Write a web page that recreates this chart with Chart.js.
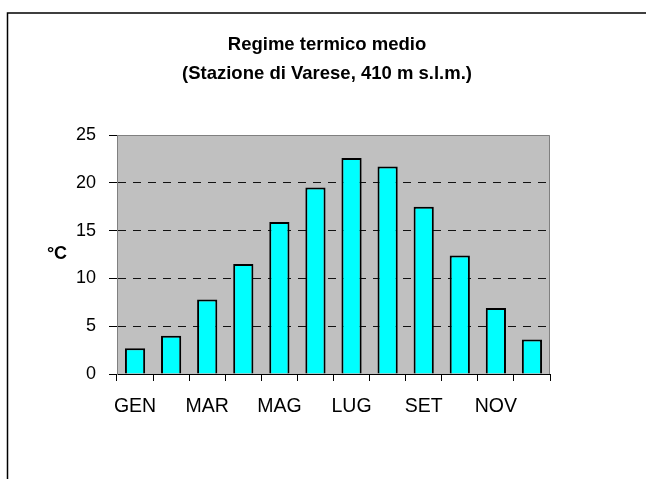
<!DOCTYPE html>
<html>
<head>
<meta charset="utf-8">
<script src="https://cdn.jsdelivr.net/npm/chart.js@4.4.1/dist/chart.umd.min.js"></script>
<style>
  html, body { margin: 0; padding: 0; background: #fff; }
  canvas { display: block; }
</style>
</head>
<body>
<canvas id="chart" width="646" height="479"></canvas>
<script>
// mesi e temperature medie (Varese)
const months = ['GEN', 'FEB', 'MAR', 'APR', 'MAG', 'GIU', 'LUG', 'AGO', 'SET', 'OTT', 'NOV', 'DIC'];
const tempMedia = [2.7, 4.0, 7.8, 11.5, 15.9, 19.5, 22.6, 21.7, 17.5, 12.4, 6.9, 3.6];
const yTicks = [0, 5, 10, 15, 20, 25];
const titleLines = ['Regime termico medio', '(Stazione di Varese, 410 m s.l.m.)'];
const yLabel = '°C';

const FONT = "'Liberation Sans', Arial, sans-serif";

// sfondo grigio, bordo del grafico, cornice, titolo e etichetta asse y
const plotDecor = {
    id: 'plotDecor',
    beforeDraw(chart) {
        const { ctx, chartArea: a } = chart;
        ctx.save();
        ctx.fillStyle = '#c0c0c0';
        ctx.fillRect(a.left, a.top, a.right - a.left, a.bottom - a.top);
        // cornice esterna
        ctx.strokeStyle = '#000';
        ctx.lineWidth = 1.5;
        ctx.beginPath();
        ctx.moveTo(7.5, chart.height);
        ctx.lineTo(7.5, 13);
        ctx.lineTo(chart.width, 13);
        ctx.stroke();
        ctx.restore();
    },
    beforeDatasetsDraw(chart) {
        const { ctx, chartArea: a } = chart;
        ctx.save();
        ctx.strokeStyle = '#808080';
        ctx.lineWidth = 1;
        ctx.beginPath();
        ctx.moveTo(a.left, a.top + 0.5);
        ctx.lineTo(a.right - 0.5, a.top + 0.5);
        ctx.lineTo(a.right - 0.5, a.bottom);
        ctx.stroke();
        ctx.restore();
    },
    afterDraw(chart) {
        const { ctx, chartArea: a } = chart;
        ctx.save();
        ctx.fillStyle = '#000';
        ctx.textAlign = 'center';
        ctx.textBaseline = 'middle';
        ctx.font = 'bold 18.5px ' + FONT;
        ctx.fillText(titleLines[0], 327, 45);
        ctx.fillText(titleLines[1], 327, 74);
        ctx.font = 'bold 18px ' + FONT;
        ctx.fillText(yLabel, 57, (a.top + a.bottom) / 2);
        ctx.restore();
    }
};

new Chart(document.getElementById('chart').getContext('2d'), {
    type: 'bar',
    data: {
        labels: months,
        datasets: [{
            data: tempMedia,
            backgroundColor: '#00ffff',
            borderColor: '#000',
            borderWidth: 2,
            barPercentage: 0.56,
            categoryPercentage: 1
        }]
    },
    options: {
        responsive: false,
        animation: false,
        layout: { padding: { left: 0, right: 96, top: 135, bottom: 0 } },
        plugins: {
            legend: { display: false },
            tooltip: { enabled: false },
            title: { display: false }
        },
        scales: {
            x: {
                grid: {
                    offset: true,
                    drawOnChartArea: false,
                    drawTicks: true,
                    tickLength: 7,
                    tickColor: '#000'
                },
                border: { display: true, color: '#000', width: 1 },
                ticks: {
                    autoSkip: false,
                    maxRotation: 0,
                    color: '#000',
                    padding: 14,
                    font: { family: FONT, size: 19.5 },
                    callback: (v, i) => (i % 2 === 0 ? months[i] : '')
                },
                afterFit(scale) { scale.height = 105; }
            },
            y: {
                min: 0,
                max: 25,
                afterBuildTicks(scale) { scale.ticks = yTicks.map(v => ({ value: v })); },
                grid: {
                    color: ctx => (ctx.tick && ctx.tick.value > 0 && ctx.tick.value < 25) ? '#111' : 'rgba(0,0,0,0)',
                    drawTicks: true,
                    tickLength: 8,
                    tickColor: '#000'
                },
                border: { display: true, color: '#808080', width: 1, dash: [8, 7] },
                ticks: {
                    color: '#000',
                    padding: 13,
                    font: { family: FONT, size: 18 }
                },
                afterFit(scale) { scale.width = 117; }
            }
        }
    },
    plugins: [plotDecor]
});
</script>
</body>
</html>
